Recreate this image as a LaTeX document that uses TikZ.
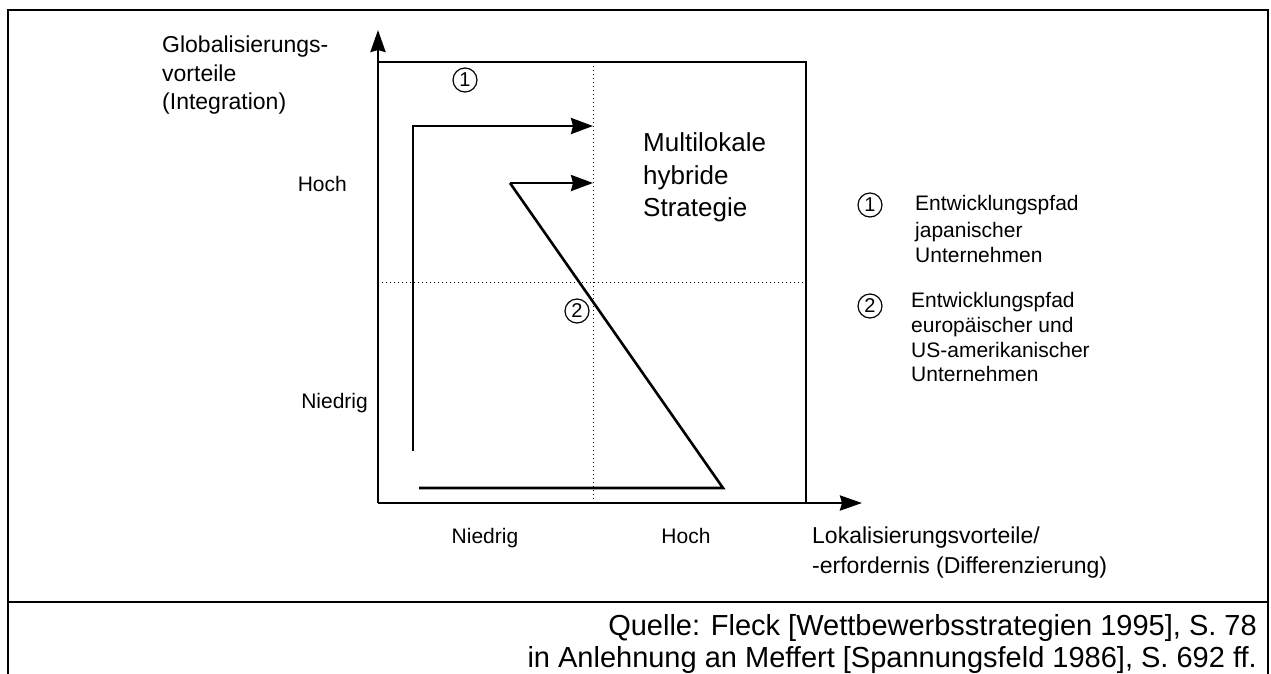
\documentclass[tikz,border=0pt]{standalone}
\usepackage{fontspec}
\setmainfont{Liberation Sans}
\usetikzlibrary{arrows.meta}
\begin{document}
\begin{tikzpicture}[x=1pt,y=-1pt,
  frameline/.style={line width=2.2pt},
  axisline/.style={line width=2.8pt,-{Stealth[length=22pt,width=15pt,inset=2pt]}},
  boxline/.style={line width=1.6pt},
  gridline/.style={line width=1pt,dash pattern=on 1pt off 3pt},
  devline/.style={line width=2.6pt,line join=miter},
  devarrow/.style={devline,-{Stealth[length=22pt,width=16pt,inset=2pt]}},
  numcircle/.style={circle,draw,line width=1.2pt,minimum size=24pt,inner sep=0pt,font=\fontsize{20}{20}\selectfont},
  axistitle/.style={inner sep=0pt,font=\fontsize{23}{23}\selectfont},
  ticklabel/.style={inner sep=0pt,font=\fontsize{21}{21}\selectfont},
  legendtext/.style={inner sep=0pt,anchor=base west,font=\fontsize{21}{21}\selectfont},
  fieldtext/.style={inner sep=0pt,anchor=base west,font=\fontsize{26}{26}\selectfont},
  sourcetext/.style={inner sep=0pt,anchor=base east,font=\fontsize{29}{29}\selectfont}]
\useasboundingbox (0,0) rectangle (1271,673);

% outer frame (open at the bottom) and source separator
\coordinate (fbl) at (8,680);
\coordinate (ftl) at (8,10);
\coordinate (ftr) at (1268,10);
\coordinate (fbr) at (1268,680);
\coordinate (sepl) at (8,602);
\coordinate (sepr) at (1268,602);
\draw[frameline] (fbl) -- (ftl) -- (ftr) -- (fbr);
\draw[frameline] (sepl) -- (sepr);

% portfolio field
\coordinate (o) at (378,503);
\coordinate (ytip) at (378,30);
\coordinate (xtip) at (862,503);
\coordinate (btl) at (378,62);
\coordinate (btr) at (806,62);
\coordinate (bbr) at (806,503);
\coordinate (vt) at (593,62);
\coordinate (vb) at (593,503);
\coordinate (hl) at (378,282);
\coordinate (hr) at (806,282);
\draw[gridline] (vt) -- (vb);
\draw[gridline] (hl) -- (hr);
\draw[boxline] (btl) -- (btr) -- (bbr);
\draw[axisline] (o) -- (ytip);
\draw[axisline] (o) -- (xtip);

% development path 1
\coordinate (p1a) at (413,451);
\coordinate (p1b) at (413,126);
\coordinate (p1c) at (593,126);
\draw[devarrow] (p1a) -- (p1b) -- (p1c);

% development path 2
\coordinate (p2a) at (419,488);
\coordinate (p2b) at (723,488);
\coordinate (p2c) at (510,183);
\coordinate (p2d) at (593,183);
\draw[devline] (p2a) -- (p2b) -- (p2c);
\draw[devarrow] (p2c) -- (p2d);

\node[numcircle] (n1) at (465,80) {1};
\node[numcircle] (n2) at (577,311) {2};

% field label
\node[fieldtext] (f1) at (643,151) {Multilokale};
\node[fieldtext] (f2) at (643,184) {hybride};
\node[fieldtext] (f3) at (643,216) {Strategie};

% axis titles
\node[axistitle,anchor=base west] (yt1) at (162,52) {Globalisierungs-};
\node[axistitle,anchor=base west] (yt2) at (162,81) {vorteile};
\node[axistitle,anchor=base west] (yt3) at (162,109) {(Integration)};
\node[axistitle,anchor=base west] (xt1) at (812,543) {Lokalisierungsvorteile/};
\node[axistitle,anchor=base west] (xt2) at (812,573) {-erfordernis (Differenzierung)};

% scale labels
\node[ticklabel,anchor=base east] (yhi) at (347,191) {Hoch};
\node[ticklabel,anchor=base east] (ylo) at (368,408) {Niedrig};
\node[ticklabel,anchor=base] (xlo) at (485,543) {Niedrig};
\node[ticklabel,anchor=base] (xhi) at (686,543) {Hoch};

% legend
\node[numcircle] (l1) at (870,205) {1};
\node[legendtext] (l1a) at (915,210) {Entwicklungspfad};
\node[legendtext] (l1b) at (915,237) {japanischer};
\node[legendtext] (l1c) at (915,262) {Unternehmen};
\node[numcircle] (l2) at (870,306) {2};
\node[legendtext] (l2a) at (911,307) {Entwicklungspfad};
\node[legendtext] (l2b) at (911,332) {europäischer und};
\node[legendtext] (l2c) at (911,357) {US-amerikanischer};
\node[legendtext] (l2d) at (911,381) {Unternehmen};

% source
\node[sourcetext] (s1) at (1257,635) {Quelle: Fleck [Wettbewerbsstrategien 1995], S. 78};
\node[sourcetext] (s2) at (1257,667) {in Anlehnung an Meffert [Spannungsfeld 1986], S. 692 ff.};
\end{tikzpicture}
\end{document}
